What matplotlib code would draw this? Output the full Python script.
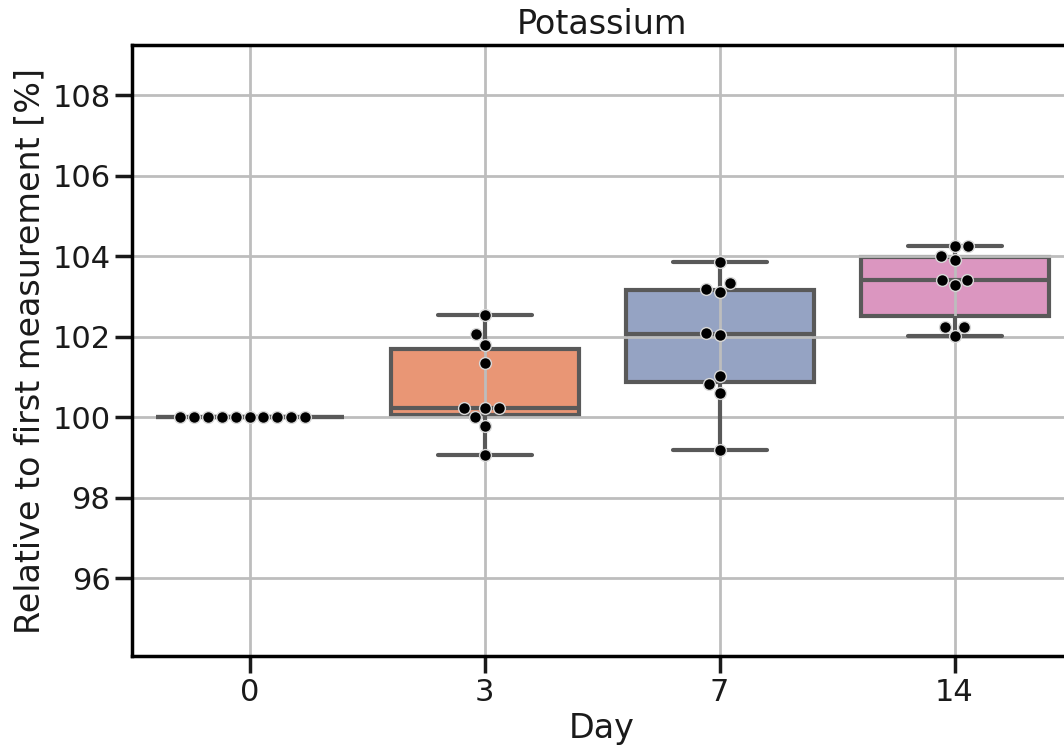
import numpy as np
import pandas as pd
import matplotlib
matplotlib.use("Agg")
import matplotlib.pyplot as plt
import seaborn as sns

# potassium relative to the first measurement, per sampling day
days = ["0", "3", "7", "14"]
day0 = [100.0, 100.0, 100.0, 100.0, 100.0, 100.0, 100.0, 100.0, 100.0, 100.0]
day3 = [102.53, 102.06, 101.80, 101.34, 100.22, 100.22, 100.22, 100.01, 99.78, 99.07]
day7 = [103.87, 103.33, 103.19, 103.12, 102.09, 102.05, 101.02, 100.82, 100.60, 99.19]
day14 = [104.25, 104.25, 104.00, 103.92, 103.42, 103.42, 103.29, 102.25, 102.25, 102.02]

df = pd.DataFrame({
    "Day": np.repeat(days, 10),
    "value": day0 + day3 + day7 + day14,
})

sns.set_theme(style="ticks", context="poster")
plt.rcParams["font.family"] = ["DejaVu Sans"]
plt.rcParams["axes.axisbelow"] = "line"
plt.rcParams["text.color"] = "#1a1a1a"
plt.rcParams["axes.labelcolor"] = "#1a1a1a"
plt.rcParams["xtick.color"] = "#1a1a1a"
plt.rcParams["ytick.color"] = "#1a1a1a"

fig = plt.figure(figsize=(10.64, 7.47), dpi=100)
ax = fig.add_axes([132 / 1064, 91 / 747, 940 / 1064, 611 / 747])

sns.boxplot(data=df, x="Day", y="value", hue="Day", palette="Set2",
            legend=False, width=0.8, linecolor="#595959", linewidth=3,
            showfliers=False, ax=ax)
# fill under the grid, outlines of whiskers/medians above it
for p in ax.patches:
    p.set_zorder(1)
for ln in ax.lines:
    ln.set_zorder(2)

sns.swarmplot(data=df, x="Day", y="value", color="black", size=8.5,
              edgecolor="#d8d8d8", linewidth=1, ax=ax, zorder=3)

ax.grid(True, color="#bdbdbd", linewidth=2)
ax.set_ylim(min(day3 + day7) - 5, max(day14) + 5)
ax.set_yticks([96, 98, 100, 102, 104, 106, 108])
ax.set_xlim(-0.5, 3.5)

ax.set_title("Potassium", fontsize=24, pad=8)
ax.set_xlabel("Day", fontsize=24)
ax.set_ylabel("Relative to first measurement [%]", fontsize=24)
ax.tick_params(axis="both", labelsize=22, length=12, width=2.5)
for s in ax.spines.values():
    s.set_linewidth(2.5)
    s.set_color("black")

fig.savefig("out.png", dpi=100)
